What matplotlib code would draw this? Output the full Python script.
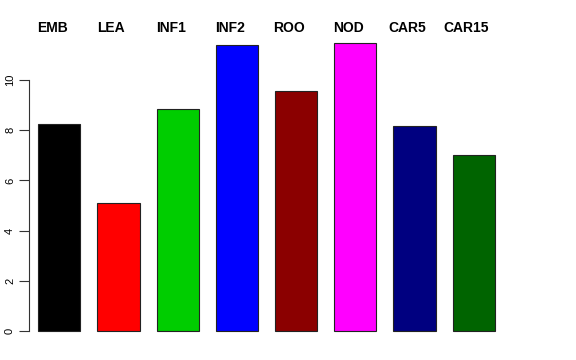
import matplotlib
matplotlib.use("Agg")
import matplotlib.pyplot as plt

# data
tissues = ["EMB", "LEA", "INF1", "INF2", "ROO", "NOD", "CAR5", "CAR15"]
values = [8.25, 5.10, 8.84, 11.39, 9.56, 11.47, 8.17, 7.01]
colors = ["#000000", "#FF0000", "#00CD00", "#0000FF",
          "#8B0000", "#FF00FF", "#000080", "#006400"]
yticks = [0, 2, 4, 6, 8, 10]

plt.rcParams["font.family"] = ["Liberation Sans", "DejaVu Sans"]

fig = plt.figure(figsize=(5.76, 3.6), dpi=100)
W, H = 576, 360
left, right, top, bottom = 29, 504, 31.6, 342.5
ax = fig.add_axes([left / W, (H - bottom) / H, (right - left) / W, (bottom - top) / H])

x = list(range(len(tissues)))
ax.bar(x, values, width=0.71, color=colors, edgecolor="#222222", linewidth=0.8)

ax.set_xlim(-0.512, 7.512)
ax.set_ylim(-0.459, 11.93)

for s in ["top", "right", "bottom"]:
    ax.spines[s].set_visible(False)
ax.spines["left"].set_bounds(0, 10)
ax.spines["left"].set_linewidth(0.8)
ax.spines["left"].set_color("#333333")

ax.set_xticks([])
ax.set_yticks(yticks)
ax.set_yticklabels([str(t) for t in yticks], rotation=90, va="center", fontsize=8)
ax.tick_params(axis="y", length=7, width=0.8, color="#333333", pad=3)

# names above bars
for xi, name in zip(x, tissues):
    ax.text(xi - 0.12, 1.0 - (28 - top) / (bottom - top), name,
            transform=ax.get_xaxis_transform(), ha="center", va="center",
            fontsize=10, fontweight="bold")

fig.savefig("out.png", dpi=100)
